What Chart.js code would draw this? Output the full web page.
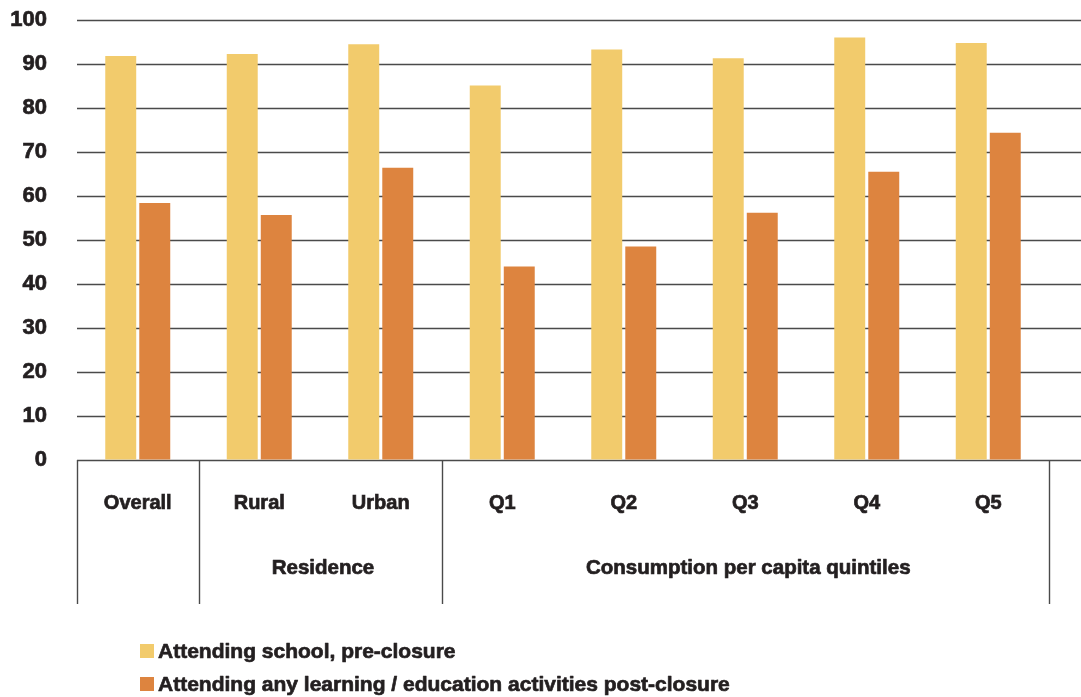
<!DOCTYPE html>
<html>
<head>
<meta charset="utf-8">
<script src="https://cdn.jsdelivr.net/npm/chart.js@4"></script>
<style>
  body { margin: 0; background: #fff; }
  #wrap { width: 1081px; height: 697px; position: relative; }
</style>
</head>
<body>
<div id="wrap"><canvas id="myChart"></canvas></div>
<script>
// data
var categories = ['Overall', 'Rural', 'Urban', 'Q1', 'Q2', 'Q3', 'Q4', 'Q5'];
var preClosure = [91.8, 92.3, 94.5, 85.1, 93.3, 91.3, 96, 94.8];
var postClosure = [58.4, 55.7, 66.4, 44, 48.5, 56.2, 65.5, 74.4];
var yTicks = [0, 10, 20, 30, 40, 50, 60, 70, 80, 90, 100];
var groupLabels = ['', 'Residence', 'Consumption per capita quintiles'];
var groupStart = [0, 1, 3];
var groupEnd = [0, 2, 7];
var seriesLabels = ['Attending school, pre-closure', 'Attending any learning / education activities post-closure'];

var FONT = '"Liberation Sans", Arial, sans-serif';
var TEXT = '#231f20';
var LINE = '#4a4a4a';
var STROKE = 0.7; // the source type is heavier than Liberation bold

function heavyText(ctx, str, x, y) {
  ctx.strokeStyle = TEXT;
  ctx.lineWidth = STROKE;
  ctx.lineJoin = 'round';
  ctx.strokeText(str, x, y);
  ctx.fillText(str, x, y);
}

// gridlines (run past the plot to the right edge), dividers, group labels, legend
var decorPlugin = {
  id: 'decor',
  beforeDatasetsDraw: function(chart) {
    var ctx = chart.ctx;
    var y = chart.scales.y;
    var area = chart.chartArea;
    ctx.save();
    ctx.strokeStyle = LINE;
    ctx.lineWidth = 1.4;
    yTicks.forEach(function(v) {
      var py = Math.round(y.getPixelForValue(v)) + 0.5;
      ctx.beginPath();
      ctx.moveTo(area.left, py);
      ctx.lineTo(chart.width, py);
      ctx.stroke();
    });
    ctx.restore();
  },
  afterDraw: function(chart) {
    var ctx = chart.ctx;
    var x = chart.scales.x;
    var area = chart.chartArea;
    var half = (x.getPixelForValue(1) - x.getPixelForValue(0)) / 2;
    ctx.save();
    ctx.strokeStyle = LINE;
    ctx.lineWidth = 1.4;
    var bottom = 604;
    // vertical dividers between groups
    var edges = [x.getPixelForValue(0) - half];
    groupEnd.forEach(function(e) { edges.push(x.getPixelForValue(e) + half); });
    edges.forEach(function(px) {
      px = Math.round(px) + 0.5;
      ctx.beginPath();
      ctx.moveTo(px, area.bottom);
      ctx.lineTo(px, bottom);
      ctx.stroke();
    });
    // group labels
    ctx.fillStyle = TEXT;
    ctx.font = 'bold 20.5px ' + FONT;
    ctx.textAlign = 'center';
    ctx.textBaseline = 'middle';
    groupLabels.forEach(function(lbl, i) {
      if (!lbl) return;
      var cx = (x.getPixelForValue(groupStart[i]) + x.getPixelForValue(groupEnd[i])) / 2;
      heavyText(ctx, lbl, cx + 3, 568);
    });
    // legend
    ctx.textAlign = 'left';
    ctx.font = 'bold 21px ' + FONT;
    chart.data.datasets.forEach(function(ds, i) {
      var ly = 651 + i * 33;
      ctx.fillStyle = ds.backgroundColor;
      ctx.fillRect(140, ly - 7, 14, 14);
      ctx.fillStyle = TEXT;
      heavyText(ctx, ds.label, 158, ly + 1);
    });
    ctx.restore();
  }
};

var ctx = document.getElementById('myChart').getContext('2d');
var myChart = new Chart(ctx, {
  type: 'bar',
  data: {
    labels: categories,
    datasets: [
      {
        label: seriesLabels[0],
        data: preClosure,
        backgroundColor: '#f2cb6c'
      },
      {
        label: seriesLabels[1],
        data: postClosure,
        backgroundColor: '#dd843f'
      }
    ]
  },
  options: {
    responsive: true,
    maintainAspectRatio: false,
    animation: false,
    layout: { padding: { top: 20, right: 32, left: 0, bottom: 0 } },
    categoryPercentage: 0.56,
    barPercentage: 0.91,
    plugins: {
      legend: { display: false },
      tooltip: { enabled: false }
    },
    scales: {
      x: {
        grid: { display: false, drawTicks: false },
        border: { display: false },
        ticks: {
          color: TEXT,
          font: { family: FONT, size: 20, weight: 'bold' },
          textStrokeColor: TEXT,
          textStrokeWidth: STROKE,
          padding: 31,
          maxRotation: 0,
          autoSkip: false
        },
        afterFit: function(scale) { scale.height = 697 - 460; }
      },
      y: {
        min: 0,
        max: 100,
        afterBuildTicks: function(scale) {
          scale.ticks = yTicks.map(function(v) { return { value: v }; });
        },
        // grid lines are drawn by the plugin; transparent tick marks keep the labels off the plot
        grid: { color: 'rgba(0,0,0,0)', drawTicks: true, tickLength: 30, drawOnChartArea: false },
        border: { display: false },
        ticks: {
          color: TEXT,
          font: { family: FONT, size: 22, weight: 'bold' },
          textStrokeColor: TEXT,
          textStrokeWidth: STROKE,
          padding: 0
        },
        afterFit: function(scale) { scale.width = 77; }
      }
    }
  },
  plugins: [decorPlugin]
});
</script>
</body>
</html>
